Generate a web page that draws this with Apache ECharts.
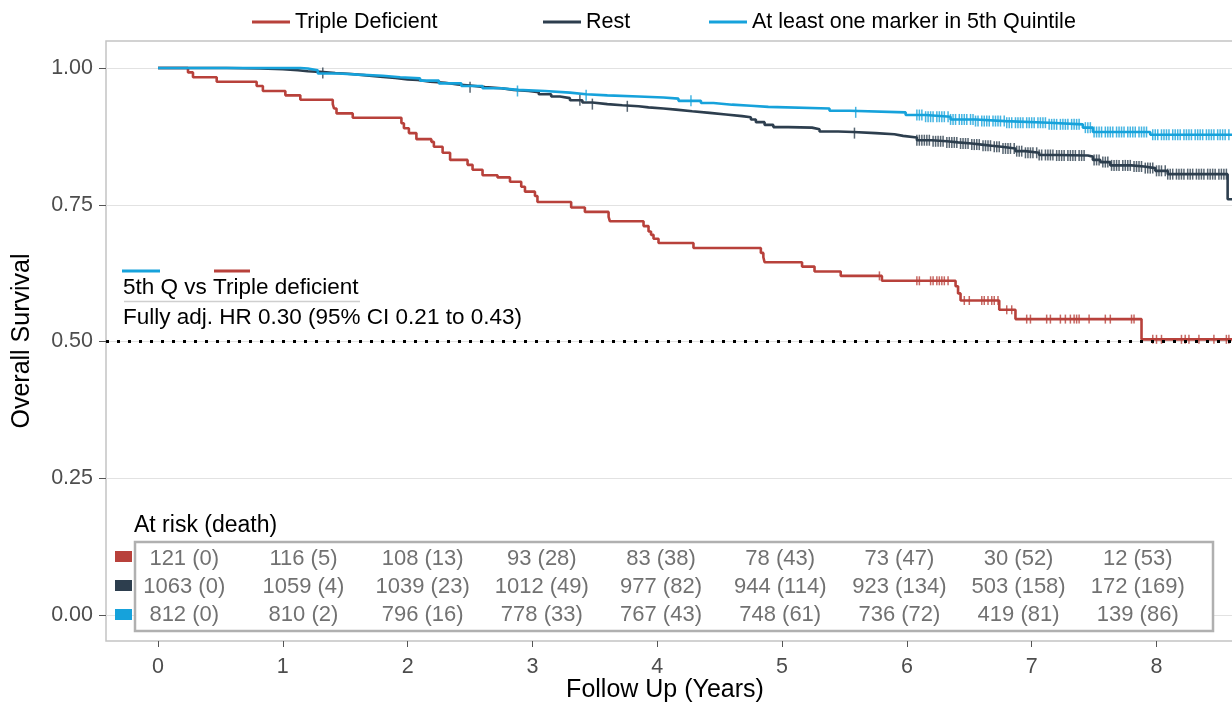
<!DOCTYPE html>
<html>
<head>
<meta charset="utf-8">
<script src="https://cdn.jsdelivr.net/npm/echarts@6/dist/echarts.min.js"></script>
<style>
html,body{margin:0;padding:0;background:#fff;}
#c{width:1232px;height:704px;}
</style>
</head>
<body>
<div id="c"></div>
<script>
// ---------- DATA ----------
const seriesNames = ['Triple Deficient', 'Rest', 'At least one marker in 5th Quintile'];
const years = [0, 1, 2, 3, 4, 5, 6, 7, 8];
const yTicks = [0, 0.25, 0.5, 0.75, 1];

// Kaplan-Meier steps: [time (years), survival after the event]
const tripleCurve = [
  [0, 1.000], [0.24, 0.992], [0.28, 0.983], [0.47, 0.975], [0.79, 0.967], [0.84, 0.958],
  [1.02, 0.950], [1.14, 0.942], [1.40, 0.934], [1.41, 0.926], [1.43, 0.917], [1.56, 0.909],
  [1.95, 0.899], [1.97, 0.890], [2.01, 0.881], [2.07, 0.870], [2.19, 0.865], [2.21, 0.856],
  [2.28, 0.845], [2.34, 0.832], [2.48, 0.823], [2.52, 0.814], [2.60, 0.804], [2.72, 0.800],
  [2.82, 0.792], [2.91, 0.783], [2.94, 0.774], [3.02, 0.766], [3.04, 0.755], [3.31, 0.745],
  [3.42, 0.737], [3.61, 0.728], [3.62, 0.720], [3.89, 0.711], [3.93, 0.701], [3.95, 0.695],
  [3.97, 0.688], [4.01, 0.680], [4.29, 0.671], [4.83, 0.662], [4.85, 0.654], [4.86, 0.645],
  [5.16, 0.637], [5.26, 0.628], [5.47, 0.620], [5.80, 0.611], [6.39, 0.601], [6.41, 0.588],
  [6.43, 0.575], [6.74, 0.558], [6.87, 0.541], [7.88, 0.504], [8.62, 0.504]
];
const restCurve = [
  [0, 1.000], [0.55, 0.999], [0.82, 0.998], [1.00, 0.996], [1.12, 0.994], [1.20, 0.993],
  [1.30, 0.991], [1.42, 0.989], [1.55, 0.987], [1.65, 0.984], [1.78, 0.982], [1.90, 0.979],
  [2.00, 0.978], [2.08, 0.975], [2.18, 0.973], [2.30, 0.970], [2.40, 0.968], [2.50, 0.965],
  [2.62, 0.963], [2.75, 0.960], [2.85, 0.958], [2.97, 0.956], [3.05, 0.952], [3.15, 0.948],
  [3.22, 0.945], [3.30, 0.941], [3.40, 0.937], [3.48, 0.934], [3.60, 0.932], [3.72, 0.930],
  [3.85, 0.928], [3.93, 0.926], [4.05, 0.924], [4.15, 0.921], [4.28, 0.918], [4.42, 0.915],
  [4.55, 0.912], [4.68, 0.910], [4.75, 0.906], [4.79, 0.901], [4.86, 0.896], [4.93, 0.892],
  [5.05, 0.891], [5.24, 0.888], [5.30, 0.884], [5.45, 0.883], [5.57, 0.881], [5.75, 0.879],
  [5.90, 0.876], [5.97, 0.873], [6.08, 0.868], [6.20, 0.866], [6.32, 0.864], [6.41, 0.862],
  [6.52, 0.860], [6.60, 0.858], [6.68, 0.856], [6.76, 0.853], [6.87, 0.848], [6.95, 0.845],
  [7.06, 0.841], [7.20, 0.840], [7.45, 0.838], [7.49, 0.832], [7.55, 0.828], [7.63, 0.822],
  [7.80, 0.820], [7.90, 0.817], [7.99, 0.812], [8.09, 0.806], [8.57, 0.760], [8.62, 0.760]
];
const quintCurve = [
  [0, 1.000], [1.14, 0.999], [1.20, 0.996], [1.28, 0.990], [1.45, 0.988], [1.60, 0.986],
  [1.80, 0.983], [1.94, 0.981], [2.10, 0.977], [2.25, 0.972], [2.43, 0.967], [2.60, 0.963],
  [2.75, 0.960], [2.88, 0.958], [3.10, 0.955], [3.30, 0.952], [3.43, 0.950], [3.60, 0.948],
  [3.85, 0.946], [4.05, 0.944], [4.17, 0.940], [4.35, 0.936], [4.45, 0.933], [4.60, 0.931],
  [4.75, 0.929], [4.89, 0.926], [5.38, 0.922], [5.54, 0.919], [5.99, 0.914], [6.15, 0.911],
  [6.35, 0.906], [6.55, 0.903], [6.79, 0.900], [7.14, 0.897], [7.41, 0.891], [7.49, 0.883],
  [7.95, 0.878], [8.62, 0.878]
];

// censoring times (years)
const tripleCensor = [5.78, 6.08, 6.10, 6.19, 6.21, 6.24, 6.26, 6.28, 6.30, 6.33, 6.46, 6.50,
  6.60, 6.62, 6.65, 6.68, 6.70, 6.73, 6.80, 6.84, 6.96, 6.99, 7.12, 7.15, 7.23, 7.27, 7.31,
  7.34, 7.36, 7.38, 7.46, 7.59, 7.63, 7.80, 7.82, 7.97, 8.00, 8.04, 8.20, 8.23, 8.26, 8.34,
  8.46, 8.56, 8.58];
const restCensor = [1.32, 2.50, 3.38, 3.48, 3.76, 5.58, 6.08, 6.10, 6.12, 6.14, 6.16, 6.18,
  6.21, 6.23, 6.25, 6.27, 6.29, 6.32, 6.34, 6.36, 6.38, 6.40, 6.43, 6.45, 6.47, 6.49, 6.52,
  6.54, 6.56, 6.58, 6.61, 6.63, 6.65, 6.67, 6.70, 6.72, 6.74, 6.77, 6.79, 6.81, 6.83, 6.86,
  6.88, 6.90, 6.92, 6.95, 6.97, 6.99, 7.01, 7.04, 7.06, 7.08, 7.11, 7.13, 7.15, 7.17, 7.20,
  7.22, 7.24, 7.26, 7.29, 7.31, 7.33, 7.35, 7.38, 7.40, 7.42, 7.50, 7.52, 7.54, 7.57, 7.59,
  7.61, 7.64, 7.66, 7.68, 7.70, 7.73, 7.75, 7.77, 7.79, 7.82, 7.84, 7.86, 7.88, 7.91, 7.93,
  7.95, 7.97, 8.00, 8.02, 8.04, 8.07, 8.09, 8.11, 8.13, 8.16, 8.18, 8.20, 8.22, 8.25, 8.27,
  8.29, 8.32, 8.34, 8.36, 8.38, 8.41, 8.43, 8.45, 8.47, 8.50, 8.52, 8.54, 8.56];
const quintCensor = [2.88, 3.43, 4.27, 5.59, 6.08, 6.10, 6.12, 6.15, 6.17, 6.19, 6.21, 6.24,
  6.26, 6.28, 6.30, 6.33, 6.35, 6.37, 6.39, 6.42, 6.44, 6.46, 6.48, 6.51, 6.53, 6.55, 6.57,
  6.60, 6.62, 6.64, 6.66, 6.69, 6.71, 6.73, 6.75, 6.78, 6.80, 6.82, 6.84, 6.87, 6.89, 6.91,
  6.93, 6.96, 6.98, 7.00, 7.02, 7.05, 7.07, 7.09, 7.11, 7.14, 7.16, 7.18, 7.20, 7.23, 7.25,
  7.27, 7.29, 7.32, 7.34, 7.36, 7.38, 7.43, 7.45, 7.47, 7.50, 7.52, 7.54, 7.56, 7.59, 7.61,
  7.63, 7.65, 7.68, 7.70, 7.72, 7.74, 7.77, 7.79, 7.81, 7.83, 7.86, 7.88, 7.90, 7.92, 7.97,
  7.99, 8.01, 8.04, 8.06, 8.08, 8.10, 8.13, 8.15, 8.17, 8.19, 8.22, 8.24, 8.26, 8.28, 8.31,
  8.33, 8.35, 8.37, 8.40, 8.42, 8.44, 8.46, 8.49, 8.51, 8.53, 8.55, 8.58];

// numbers at risk (deaths) at each year
const atRiskTriple = [121, 116, 108, 93, 83, 78, 73, 30, 12];
const deathsTriple = [0, 5, 13, 28, 38, 43, 47, 52, 53];
const atRiskRest = [1063, 1059, 1039, 1012, 977, 944, 923, 503, 172];
const deathsRest = [0, 4, 23, 49, 82, 114, 134, 158, 169];
const atRiskQuint = [812, 810, 796, 778, 767, 748, 736, 419, 139];
const deathsQuint = [0, 2, 16, 33, 43, 61, 72, 81, 86];

const medianSurvival = 0.5;
const hrTitle = '5th Q vs Triple deficient';
const hrText = 'Fully adj. HR 0.30 (95% CI 0.21 to 0.43)';
const riskTitle = 'At risk (death)';
const xTitle = 'Follow Up (Years)';
const yTitle = 'Overall Survival';

// ---------- STYLE / LAYOUT ----------
const FONT = '"Liberation Sans", Arial, Helvetica, sans-serif';
const colors = ['#B8413B', '#2D3E4E', '#16A2DB'];
const curves = [tripleCurve, restCurve, quintCurve];
const censors = [tripleCensor, restCensor, quintCensor];
const risks = [[atRiskTriple, deathsTriple], [atRiskRest, deathsRest], [atRiskQuint, deathsQuint]];
const rowY = [0.102, 0.051, 0.0];          // table row positions (axis units)
const TABLE_X0 = 0.21, TABLE_DX = 0.955;    // table column positions (axis units)
const censorSize = [[1.5, 9], [1.5, 11], [1.5, 11]];

function survAt(curve, t) {
  let s = curve[0][1];
  for (const p of curve) { if (p[0] <= t) s = p[1]; else break; }
  return s;
}

const chart = echarts.init(document.getElementById('c'), null, {renderer: 'canvas'});

const series = [];
curves.forEach((c, i) => {
  series.push({
    name: seriesNames[i], type: 'line', step: 'end', data: c, symbol: 'none',
    lineStyle: {color: colors[i], width: 2.6}, itemStyle: {color: colors[i]}, z: 3 + i,
    markLine: i === 0 ? {
      silent: true, symbol: 'none', label: {show: false},
      lineStyle: {color: '#000', type: [3, 8], width: 3},
      data: [{yAxis: medianSurvival}]
    } : undefined
  });
});
censors.forEach((cs, i) => {
  series.push({
    name: seriesNames[i] + ' censored', type: 'scatter', symbol: 'rect', symbolSize: censorSize[i],
    itemStyle: {color: colors[i]}, z: 3 + i, silent: true,
    data: cs.map(t => [t, survAt(curves[i], t)])
  });
});
risks.forEach((r, i) => {
  series.push({
    name: 'risk' + i, type: 'scatter', symbolSize: 1, itemStyle: {color: 'rgba(0,0,0,0)'},
    silent: true, z: 10,
    label: {show: true, position: 'inside', color: '#4D4D4D', fontSize: 22, fontFamily: FONT,
      formatter: p => r[0][p.data[2]] + ' (' + r[1][p.data[2]] + ')'},
    data: years.map((y, k) => [TABLE_X0 + TABLE_DX * k, rowY[i], k])
  });
});

const legendLeft = [252, 543, 709];

const option = {
  animation: false,
  backgroundColor: '#fff',
  textStyle: {fontFamily: FONT},
  color: colors,
  grid: {left: 106, top: 41, right: -2, bottom: 63, show: true, borderColor: '#C4C4C4', borderWidth: 1.5,
    outerBoundsMode: 'none', containLabel: false},
  legend: seriesNames.map((n, i) => ({
    data: [n], left: legendLeft[i], top: 11, padding: 0, icon: 'rect', itemWidth: 38, itemHeight: 3,
    itemStyle: {color: colors[i]}, selectedMode: false,
    textStyle: {fontSize: 21.5, color: '#000', fontFamily: FONT}
  })),
  xAxis: {
    type: 'value', min: -0.417, max: 8.621,
    axisLine: {show: false, onZero: false},
    axisTick: {show: true, customValues: years, length: 6, lineStyle: {color: '#555'}},
    axisLabel: {customValues: years, margin: 15, fontSize: 21.5, color: '#4D4D4D'},
    splitLine: {show: false},
    name: xTitle, nameLocation: 'middle', nameGap: 37, nameMoveOverlap: false,
    nameTextStyle: {fontSize: 25, color: '#000', padding: [0, 10, 0, 0]}
  },
  yAxis: {
    type: 'value', min: -0.0475, max: 1.0494,
    axisLine: {show: false, onZero: false},
    axisTick: {show: true, customValues: yTicks, length: 7, lineStyle: {color: '#555'}},
    axisLabel: {customValues: yTicks, formatter: v => v.toFixed(2), margin: 13, fontSize: 21.5, color: '#4D4D4D'},
    splitLine: {show: true, lineStyle: {color: '#E2E2E2', width: 1.2}},
    name: yTitle, nameLocation: 'middle', nameRotate: 90, nameGap: 71, nameMoveOverlap: false,
    nameTextStyle: {fontSize: 25, color: '#000'}
  },
  graphic: [
    {type: 'line', shape: {x1: 122, y1: 271, x2: 160, y2: 271}, style: {stroke: colors[2], lineWidth: 3}, z: 5},
    {type: 'line', shape: {x1: 214, y1: 271, x2: 250, y2: 271}, style: {stroke: colors[0], lineWidth: 3}, z: 5},
    {type: 'text', left: 123, top: 276, style: {text: hrTitle, fill: '#000', font: '22.5px ' + FONT}, z: 5},
    {type: 'line', shape: {x1: 124, y1: 301.5, x2: 360, y2: 301.5}, style: {stroke: '#CFCFCF', lineWidth: 1.5}, z: 5},
    {type: 'text', left: 123, top: 306, style: {text: hrText, fill: '#000', font: '22.5px ' + FONT}, z: 5},
    {type: 'text', left: 134, top: 514, style: {text: riskTitle, fill: '#000', font: '23px ' + FONT}, z: 5},
    {type: 'rect', shape: {x: 135, y: 542, width: 1078, height: 89}, style: {fill: '#fff', stroke: '#B0B0B0', lineWidth: 2.5}, z: 1},
    {type: 'rect', shape: {x: 115, y: 551, width: 17, height: 11}, style: {fill: colors[0]}, z: 5},
    {type: 'rect', shape: {x: 115, y: 580, width: 17, height: 11}, style: {fill: colors[1]}, z: 5},
    {type: 'rect', shape: {x: 115, y: 609, width: 17, height: 11}, style: {fill: colors[2]}, z: 5}
  ],
  series: series
};
chart.setOption(option);
</script>
</body>
</html>
